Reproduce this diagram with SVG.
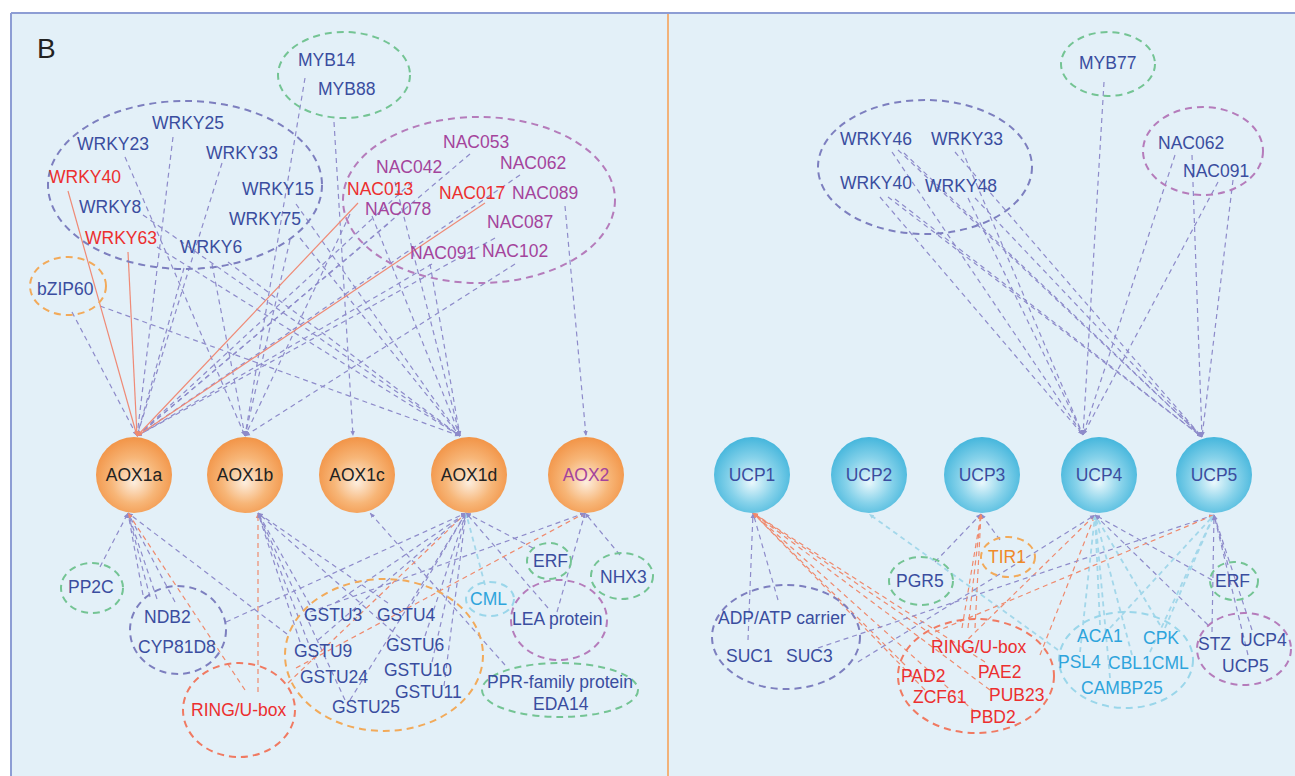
<svg xmlns="http://www.w3.org/2000/svg" width="1295" height="776" viewBox="0 0 1295 776">
<defs>
<radialGradient id="go" cx="50%" cy="55%" r="55%" fx="50%" fy="60%">
<stop offset="0" stop-color="#fdeede"/><stop offset="0.55" stop-color="#f7b678"/><stop offset="1" stop-color="#f29447"/>
</radialGradient>
<radialGradient id="gb" cx="50%" cy="55%" r="55%" fx="50%" fy="60%">
<stop offset="0" stop-color="#eaf8fc"/><stop offset="0.55" stop-color="#86d2ea"/><stop offset="1" stop-color="#45b6dc"/>
</radialGradient>
<marker id="mb" markerWidth="6" markerHeight="6" refX="5" refY="3" orient="auto" markerUnits="userSpaceOnUse"><path d="M0,0.8 L5,3 L0,5.2 z" fill="#8e8bca"/></marker>
<marker id="mr" markerWidth="6" markerHeight="6" refX="5" refY="3" orient="auto" markerUnits="userSpaceOnUse"><path d="M0,0.8 L5,3 L0,5.2 z" fill="#ef8a6e"/></marker>
<marker id="mc" markerWidth="6" markerHeight="6" refX="5" refY="3" orient="auto" markerUnits="userSpaceOnUse"><path d="M0,0.8 L5,3 L0,5.2 z" fill="#9fd5e8"/></marker>
</defs>
<style>
text{font-family:"Liberation Sans",Arial,sans-serif;font-size:17.5px}
.tb{fill:#3a4d9f}.tr{fill:#ec2f2f}.tp{fill:#a4449c}.tc{fill:#2ea4dc}.to{fill:#f08a28}.tk{fill:#222}
.e line{stroke:#8e8bca;stroke-width:1.2;stroke-dasharray:5 4;marker-end:url(#mb)}
.e line.r{stroke:#ef8a76;stroke-dasharray:none;marker-end:url(#mr)}
.e line.rd{stroke:#ef8a6e;stroke-dasharray:5 4;marker-end:url(#mr)}
.e line.c{stroke:#a3d7ea;stroke-width:1.8;stroke-dasharray:5 4;marker-end:url(#mc)}
ellipse{fill:none;stroke-width:2;stroke-dasharray:7 5}
.gb{stroke:#7d7fbf}.gg{stroke:#74c494}.gp{stroke:#b57cbb}.go{stroke:#f2aa5a}.gr{stroke:#f07a62}.gc{stroke:#9ad6ea}
.n circle{stroke:none}
</style>
<rect x="0" y="0" width="1295" height="776" fill="#ffffff"/>
<rect x="11" y="13" width="1284" height="763" fill="#e3f0f8"/>
<line x1="11" y1="13" x2="1295" y2="13" stroke="#8d9dd4" stroke-width="2"/>
<line x1="11" y1="13" x2="11" y2="776" stroke="#8d9dd4" stroke-width="2"/>
<line x1="668" y1="14" x2="668" y2="776" stroke="#f2b27a" stroke-width="2"/>
<text x="37" y="58" class="tk" style="font-size:28px">B</text>

<g id="connectors" class="e">
<line x1="72" y1="312" x2="137" y2="436"/>
<line x1="173" y1="137" x2="137" y2="436"/>
<line x1="222" y1="163" x2="137" y2="436"/>
<line x1="184" y1="268" x2="137" y2="436"/>
<line x1="412" y1="182" x2="137" y2="436"/>
<line x1="388" y1="224" x2="137" y2="436"/>
<line x1="470" y1="154" x2="137" y2="436"/>
<line x1="432" y1="264" x2="137" y2="436"/>
<line x1="520" y1="175" x2="137" y2="436"/>
<line x1="495" y1="238" x2="137" y2="436"/>
<line x1="125" y1="157" x2="245" y2="436"/>
<line x1="305" y1="78" x2="245" y2="436"/>
<line x1="290" y1="240" x2="245" y2="436"/>
<line x1="515" y1="264" x2="245" y2="436"/>
<line x1="212" y1="264" x2="245" y2="436"/>
<line x1="350" y1="214" x2="245" y2="436"/>
<line x1="334" y1="122" x2="353" y2="436"/>
<line x1="100" y1="306" x2="460" y2="436"/>
<line x1="143" y1="215" x2="460" y2="436"/>
<line x1="157" y1="247" x2="460" y2="436"/>
<line x1="228" y1="262" x2="460" y2="436"/>
<line x1="300" y1="238" x2="460" y2="436"/>
<line x1="296" y1="204" x2="460" y2="436"/>
<line x1="372" y1="216" x2="460" y2="436"/>
<line x1="430" y1="264" x2="460" y2="436"/>
<line x1="395" y1="182" x2="460" y2="436"/>
<line x1="565" y1="206" x2="586" y2="436"/>
<line class="r" x1="68" y1="191" x2="137" y2="436"/>
<line class="r" x1="128" y1="252" x2="137" y2="436"/>
<line class="r" x1="358" y1="203" x2="137" y2="436"/>
<line class="r" x1="485" y1="203" x2="137" y2="436"/>

<line x1="100" y1="567" x2="128" y2="513"/>
<line x1="143" y1="595" x2="128" y2="513"/>
<line x1="150" y1="597" x2="128" y2="513"/>
<line x1="157" y1="599" x2="128" y2="513"/>
<line x1="175" y1="602" x2="128" y2="513"/>
<line x1="287" y1="634" x2="128" y2="513"/>
<line class="rd" x1="245" y1="690" x2="128" y2="513"/>
<line class="rd" x1="258" y1="692" x2="258" y2="513"/>
<line x1="310" y1="605" x2="258" y2="513"/>
<line x1="300" y1="642" x2="258" y2="513"/>
<line x1="318" y1="668" x2="258" y2="513"/>
<line x1="345" y1="700" x2="258" y2="513"/>
<line x1="388" y1="603" x2="258" y2="513"/>
<line x1="400" y1="638" x2="258" y2="513"/>
<line x1="505" y1="665" x2="370" y2="513"/>
<line x1="226" y1="622" x2="466" y2="513"/>
<line class="rd" x1="288" y1="683" x2="466" y2="513"/>
<line x1="335" y1="603" x2="466" y2="513"/>
<line x1="318" y1="640" x2="466" y2="513"/>
<line x1="412" y1="604" x2="466" y2="513"/>
<line x1="425" y1="636" x2="466" y2="513"/>
<line x1="432" y1="662" x2="466" y2="513"/>
<line x1="444" y1="686" x2="466" y2="513"/>
<line x1="350" y1="700" x2="466" y2="513"/>
<line class="c" x1="485" y1="585" x2="466" y2="513"/>
<line x1="533" y1="548" x2="466" y2="513"/>
<line x1="548" y1="608" x2="466" y2="513"/>
<line class="rd" x1="296" y1="668" x2="585" y2="513"/>
<line x1="310" y1="612" x2="585" y2="513"/>
<line x1="620" y1="555" x2="585" y2="513"/>
<line x1="557" y1="612" x2="585" y2="513"/>

<line x1="892" y1="152" x2="1083" y2="435"/>
<line x1="962" y1="150" x2="1083" y2="435"/>
<line x1="880" y1="197" x2="1083" y2="435"/>
<line x1="968" y1="198" x2="1083" y2="435"/>
<line x1="1104" y1="82" x2="1083" y2="435"/>
<line x1="1175" y1="155" x2="1083" y2="435"/>
<line x1="1218" y1="182" x2="1083" y2="435"/>
<line x1="898" y1="150" x2="1202" y2="437"/>
<line x1="904" y1="153" x2="1202" y2="437"/>
<line x1="955" y1="152" x2="1202" y2="437"/>
<line x1="888" y1="197" x2="1202" y2="437"/>
<line x1="895" y1="199" x2="1202" y2="437"/>
<line x1="975" y1="198" x2="1202" y2="437"/>
<line x1="1192" y1="155" x2="1202" y2="437"/>
<line x1="1233" y1="180" x2="1202" y2="437"/>

<line x1="748" y1="640" x2="753" y2="513"/>
<line x1="778" y1="600" x2="753" y2="513"/>
<line class="rd" x1="905" y1="665" x2="753" y2="513"/>
<line class="rd" x1="925" y1="690" x2="753" y2="513"/>
<line class="rd" x1="940" y1="640" x2="753" y2="513"/>
<line class="rd" x1="985" y1="662" x2="753" y2="513"/>
<line class="rd" x1="990" y1="690" x2="753" y2="513"/>
<line class="rd" x1="975" y1="712" x2="753" y2="513"/>
<line class="c" x1="1058" y1="650" x2="869" y2="514"/>
<line x1="935" y1="562" x2="981" y2="514"/>
<line x1="1000" y1="540" x2="981" y2="514"/>
<line class="rd" x1="962" y1="628" x2="981" y2="514"/>
<line class="rd" x1="968" y1="628" x2="981" y2="514"/>
<line class="rd" x1="975" y1="628" x2="981" y2="514"/>
<line class="rd" x1="962" y1="645" x2="1095" y2="515"/>
<line class="rd" x1="1040" y1="655" x2="1095" y2="515"/>
<line class="c" x1="1100" y1="625" x2="1095" y2="515"/>
<line class="c" x1="1160" y1="625" x2="1095" y2="515"/>
<line class="c" x1="1080" y1="652" x2="1095" y2="515"/>
<line class="c" x1="1132" y1="655" x2="1095" y2="515"/>
<line class="c" x1="1110" y1="678" x2="1095" y2="515"/>
<line x1="1208" y1="625" x2="1095" y2="515"/>
<line x1="1212" y1="580" x2="1095" y2="515"/>
<line x1="858" y1="662" x2="1095" y2="515"/>
<line x1="818" y1="648" x2="1214" y2="515"/>
<line class="rd" x1="935" y1="632" x2="1214" y2="515"/>
<line class="c" x1="1165" y1="628" x2="1214" y2="515"/>
<line class="c" x1="1150" y1="652" x2="1214" y2="515"/>
<line class="c" x1="1110" y1="628" x2="1214" y2="515"/>
<line x1="1228" y1="565" x2="1214" y2="515"/>
<line x1="1212" y1="632" x2="1214" y2="515"/>
<line x1="1252" y1="630" x2="1214" y2="515"/>
<line x1="1248" y1="655" x2="1214" y2="515"/>
</g>

<g id="grp-myb-left"><ellipse class="gg" cx="344" cy="75" rx="66" ry="43"/>
<text x="298" y="66" class="tb">MYB14</text><text x="318" y="95" class="tb">MYB88</text></g>
<g id="grp-wrky-left"><ellipse class="gb" cx="185" cy="185" rx="137" ry="84"/>
<text x="152" y="129" class="tb">WRKY25</text>
<text x="77" y="150" class="tb">WRKY23</text>
<text x="206" y="159" class="tb">WRKY33</text>
<text x="49" y="183" class="tr">WRKY40</text>
<text x="242" y="195" class="tb">WRKY15</text>
<text x="79" y="213" class="tb">WRKY8</text>
<text x="229" y="225" class="tb">WRKY75</text>
<text x="85" y="244" class="tr">WRKY63</text>
<text x="180" y="253" class="tb">WRKY6</text></g>
<g id="grp-bzip"><ellipse class="go" cx="68" cy="286" rx="38" ry="29"/>
<text x="37" y="295" class="tb">bZIP60</text></g>
<g id="grp-nac-left"><ellipse class="gp" cx="479" cy="200" rx="136" ry="83"/>
<text x="443" y="148" class="tp">NAC053</text>
<text x="376" y="173" class="tp">NAC042</text>
<text x="500" y="169" class="tp">NAC062</text>
<text x="347" y="195" class="tr">NAC013</text>
<text x="439" y="199" class="tr">NAC017</text>
<text x="512" y="199" class="tp">NAC089</text>
<text x="365" y="215" class="tp">NAC078</text>
<text x="487" y="228" class="tp">NAC087</text>
<text x="410" y="259" class="tp">NAC091</text>
<text x="482" y="257" class="tp">NAC102</text></g>

<g id="AOX1a" class="n"><circle cx="134" cy="475" r="38" fill="url(#go)"/><text x="134" y="481" text-anchor="middle" class="tk">AOX1a</text></g>
<g id="AOX1b" class="n"><circle cx="245" cy="475" r="38" fill="url(#go)"/><text x="245" y="481" text-anchor="middle" class="tk">AOX1b</text></g>
<g id="AOX1c" class="n"><circle cx="357" cy="475" r="38" fill="url(#go)"/><text x="357" y="481" text-anchor="middle" class="tk">AOX1c</text></g>
<g id="AOX1d" class="n"><circle cx="469" cy="475" r="38" fill="url(#go)"/><text x="469" y="481" text-anchor="middle" class="tk">AOX1d</text></g>
<g id="AOX2" class="n"><circle cx="586" cy="475" r="38" fill="url(#go)"/><text x="586" y="481" text-anchor="middle" class="tp">AOX2</text></g>

<g id="grp-pp2c"><ellipse class="gg" cx="92" cy="588" rx="31" ry="25"/><text x="68" y="593" class="tb">PP2C</text></g>
<g id="grp-ndb2"><ellipse class="gb" cx="178" cy="630" rx="48" ry="44"/>
<text x="144" y="623" class="tb">NDB2</text><text x="138" y="653" class="tb">CYP81D8</text></g>
<g id="grp-ring-left"><ellipse class="gr" cx="239" cy="710" rx="56" ry="47"/><text x="191" y="716" class="tr">RING/U-box</text></g>
<g id="grp-gstu"><ellipse class="go" cx="384" cy="655" rx="99" ry="76"/>
<text x="304" y="621" class="tb">GSTU3</text>
<text x="377" y="621" class="tb">GSTU4</text>
<text x="386" y="651" class="tb">GSTU6</text>
<text x="294" y="657" class="tb">GSTU9</text>
<text x="384" y="676" class="tb">GSTU10</text>
<text x="300" y="683" class="tb">GSTU24</text>
<text x="395" y="698" class="tb">GSTU11</text>
<text x="332" y="713" class="tb">GSTU25</text></g>
<g id="grp-cml"><ellipse class="gc" cx="490" cy="599" rx="24" ry="17"/><text x="470" y="605" class="tc">CML</text></g>
<g id="grp-erf-left"><ellipse class="gg" cx="549" cy="561" rx="22" ry="18"/><text x="533" y="567" class="tb">ERF</text></g>
<g id="grp-nhx3"><ellipse class="gg" cx="622" cy="576" rx="31" ry="23"/><text x="600" y="583" class="tb">NHX3</text></g>
<g id="grp-lea"><ellipse class="gp" cx="559" cy="620" rx="48" ry="40"/><text x="512" y="625" class="tb">LEA protein</text></g>
<g id="grp-ppr"><ellipse class="gg" cx="560" cy="690" rx="78" ry="27"/>
<text x="487" y="688" class="tb">PPR-family protein</text><text x="533" y="710" class="tb">EDA14</text></g>

<g id="grp-myb77"><ellipse class="gg" cx="1108" cy="64" rx="47" ry="32"/><text x="1079" y="69" class="tb">MYB77</text></g>
<g id="grp-wrky-right"><ellipse class="gb" cx="925" cy="167" rx="107" ry="67"/>
<text x="840" y="145" class="tb">WRKY46</text>
<text x="931" y="145" class="tb">WRKY33</text>
<text x="840" y="189" class="tb">WRKY40</text>
<text x="925" y="192" class="tb">WRKY48</text></g>
<g id="grp-nac-right"><ellipse class="gp" cx="1203" cy="151" rx="60" ry="44"/>
<text x="1158" y="149" class="tb">NAC062</text><text x="1183" y="177" class="tb">NAC091</text></g>

<g id="UCP1" class="n"><circle cx="752" cy="475" r="38" fill="url(#gb)"/><text x="752" y="481" text-anchor="middle" class="tb">UCP1</text></g>
<g id="UCP2" class="n"><circle cx="869" cy="475" r="38" fill="url(#gb)"/><text x="869" y="481" text-anchor="middle" class="tb">UCP2</text></g>
<g id="UCP3" class="n"><circle cx="982" cy="475" r="38" fill="url(#gb)"/><text x="982" y="481" text-anchor="middle" class="tb">UCP3</text></g>
<g id="UCP4" class="n"><circle cx="1099" cy="475" r="38" fill="url(#gb)"/><text x="1099" y="481" text-anchor="middle" class="tb">UCP4</text></g>
<g id="UCP5" class="n"><circle cx="1214" cy="475" r="38" fill="url(#gb)"/><text x="1214" y="481" text-anchor="middle" class="tb">UCP5</text></g>

<g id="grp-pgr5"><ellipse class="gg" cx="921" cy="581" rx="32" ry="24"/><text x="896" y="587" class="tb">PGR5</text></g>
<g id="grp-tir1"><ellipse class="go" cx="1008" cy="557" rx="27" ry="20"/><text x="988" y="563" class="to">TIR1</text></g>
<g id="grp-adp"><ellipse class="gb" cx="786" cy="637" rx="74" ry="52"/>
<text x="718" y="624" class="tb">ADP/ATP carrier</text>
<text x="726" y="662" class="tb">SUC1</text><text x="786" y="662" class="tb">SUC3</text></g>
<g id="grp-ring-right"><ellipse class="gr" cx="976" cy="676" rx="78" ry="57"/>
<text x="931" y="653" class="tr">RING/U-box</text>
<text x="901" y="682" class="tr">PAD2</text>
<text x="978" y="678" class="tr">PAE2</text>
<text x="913" y="703" class="tr">ZCF61</text>
<text x="989" y="701" class="tr">PUB23</text>
<text x="970" y="723" class="tr">PBD2</text></g>
<g id="grp-ca"><ellipse class="gc" cx="1126" cy="660" rx="67" ry="48"/>
<text x="1077" y="642" class="tc">ACA1</text>
<text x="1143" y="644" class="tc">CPK</text>
<text x="1058" y="668" class="tc">PSL4</text>
<text x="1108" y="669" class="tc">CBL1CML</text>
<text x="1081" y="694" class="tc">CAMBP25</text></g>
<g id="grp-erf-right"><ellipse class="gg" cx="1234" cy="581" rx="24" ry="19"/><text x="1215" y="587" class="tb">ERF</text></g>
<g id="grp-stz"><ellipse class="gp" cx="1244" cy="649" rx="47" ry="36"/>
<text x="1198" y="650" class="tb">STZ</text><text x="1240" y="646" class="tb">UCP4</text><text x="1222" y="672" class="tb">UCP5</text></g>
</svg>
